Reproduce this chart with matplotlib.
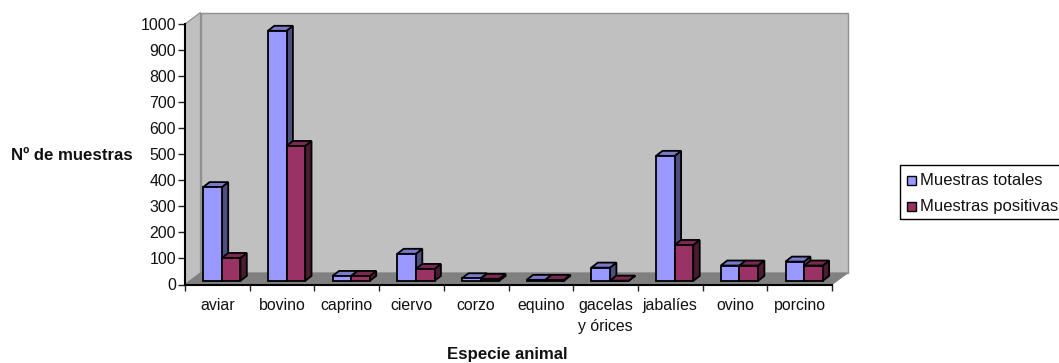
import numpy as np
import matplotlib
matplotlib.use('Agg')
import matplotlib.pyplot as plt
from matplotlib.patches import Polygon, Rectangle

plt.rcParams['font.family'] = ['Liberation Sans', 'DejaVu Sans']

especies = ['aviar', 'bovino', 'caprino', 'ciervo', 'corzo', 'equino',
            'gacelas\ny órices', 'jabalíes', 'ovino', 'porcino']
totales = [360, 960, 19, 104, 10, 4, 51, 480, 59, 74]
positivas = [88, 518, 19, 46, 8, 4, 1, 138, 59, 59]
yticks = list(range(0, 1001, 100))

W, H = 1059, 363
fig = plt.figure(figsize=(W / 100, H / 100), dpi=100)
# ejes de la pared frontal, en pixeles de la figura
x0, x1, y0, y1 = 185, 832, 284.5, 24
ax = fig.add_axes([x0 / W, 1 - y0 / H, (x1 - x0) / W, (y0 - y1) / H])
ax.set_xlim(0, 10)
ax.set_ylim(0, 1000)
ax.patch.set_visible(False)

# conversion de pixeles a unidades de datos para el falso 3D
ux = 10 / (x1 - x0)
uy = 1000 / (y0 - y1)


def poly(pts, fc, ec='black', lw=1.3, z=2):
    ax.add_patch(Polygon([(px * ux, py * uy) for px, py in pts], closed=True, facecolor=fc,
                         edgecolor=ec, linewidth=lw, zorder=z, clip_on=False, joinstyle='miter'))


# suelo y paredes
dx, dy = 15.5, 11.5
ancho = x1 - x0
alto = y0 - y1
poly([(0, 0), (dx, dy), (dx, alto + dy), (0, alto)], '#C0C0C0', '#909090', 0.9, 1)
poly([(dx, dy), (ancho + dx, dy), (ancho + dx, alto + dy), (dx, alto + dy)], '#C0C0C0', '#909090', 1.0, 1)
poly([(0, 0), (dx, dy), (ancho + dx, dy), (ancho, 0)], '#808080', '#808080', 0.8, 1)


def barra3d(x, val, frente, lado, arriba):
    # x es el borde izquierdo en pixeles; la base queda algo por encima del suelo
    w, base = 18.6, 3.6
    d, e = 6.4, 5.0
    top = base + val / uy
    poly([(x + w, base), (x + w + d, base + e), (x + w + d, top + e), (x + w, top)], lado)
    poly([(x, top), (x + d, top + e), (x + w + d, top + e), (x + w, top)], arriba)
    poly([(x, base), (x + w, base), (x + w, top), (x, top)], frente)


for i in range(len(especies)):
    cat = i * ancho / 10
    izq = cat + 18.2
    barra3d(izq, totales[i], '#9999FF', '#4D4D80', '#7A7ACC')
    barra3d(izq + 18.6, positivas[i], '#993366', '#4D1A33', '#7A2952')

# ejes
for s in ['top', 'right']:
    ax.spines[s].set_visible(False)
ax.spines['left'].set_linewidth(1.5)
ax.spines['bottom'].set_linewidth(1.5)
ax.spines['left'].set_zorder(5)
ax.spines['bottom'].set_zorder(5)
ax.set_yticks(yticks)
ax.set_xticks(np.arange(0, 11))
ax.set_xticklabels([])
ax.set_xticks(np.arange(10) + 0.5, minor=True)
ax.set_xticklabels(especies, minor=True, fontsize=11.4, color='#111111', linespacing=1.45)
ax.tick_params(axis='x', which='minor', length=0, pad=10)
ax.tick_params(axis='x', which='major', length=4, width=1.0, color='#222222')
ax.tick_params(axis='y', length=5, width=1.0, color='#222222', labelsize=11.4, labelcolor='#111111', pad=1.5)

ax.set_ylabel('Nº de muestras', rotation=0, fontsize=12.1, fontweight='bold', color='#111111', ha='center', va='center')
ax.yaxis.set_label_coords((71.5 - x0) / ancho, (y0 - 155) / alto)
ax.set_xlabel('Especie animal', fontsize=12.1, fontweight='bold', color='#111111', ha='center', va='center')
ax.xaxis.set_label_coords((507.5 - x0) / ancho, (y0 - 354.5) / alto)

# leyenda dibujada a mano, la caja se sale por la derecha
lx0, ly0, lx1, ly1 = 899.5, 165, 1065, 219.5
fig.add_artist(Rectangle((lx0 / W, 1 - ly1 / H), (lx1 - lx0) / W, (ly1 - ly0) / H, transform=fig.transFigure,
                         facecolor='white', edgecolor='black', linewidth=1.0))
nombres = ['Muestras totales', 'Muestras positivas']
colores = ['#9999FF', '#993366']
for yy, nombre, color in zip([180.5, 207], nombres, colores):
    fig.add_artist(Rectangle((906.5 / W, 1 - (yy + 4.5) / H), 9 / W, 9 / H, transform=fig.transFigure,
                             facecolor=color, edgecolor='black', linewidth=1.0))
    fig.text(920 / W, 1 - yy / H, nombre, fontsize=11.95, color='#111111', ha='left', va='center')

fig.savefig('out.png', dpi=100)
